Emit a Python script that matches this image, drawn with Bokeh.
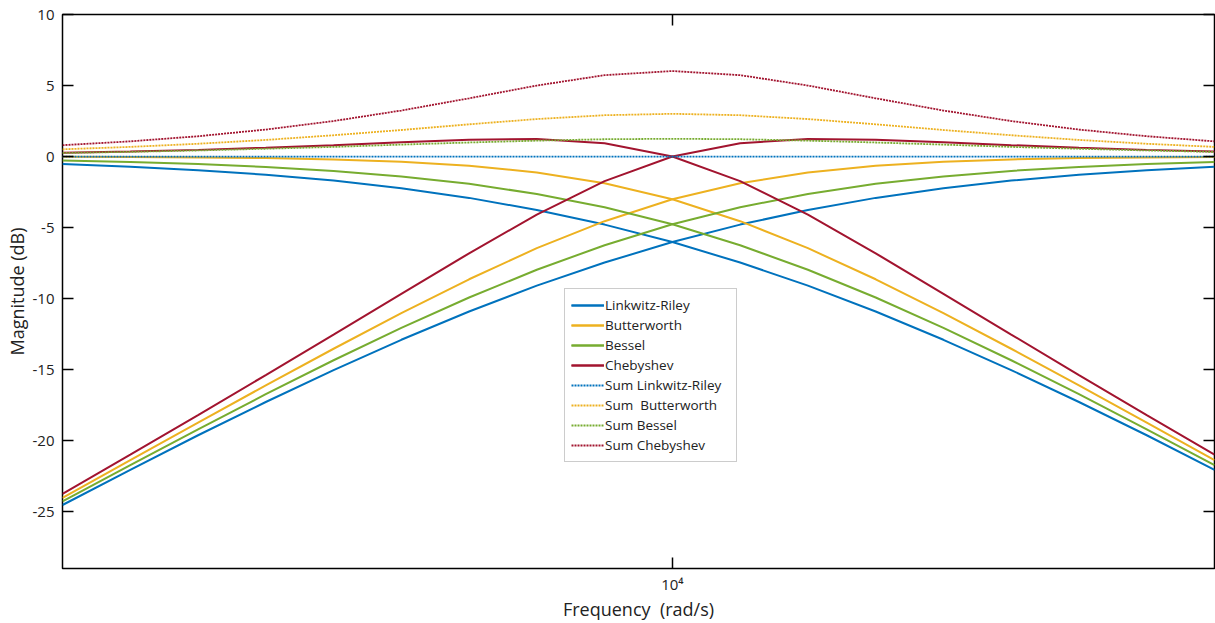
from bokeh.plotting import figure
from bokeh.models import (Range1d, FixedTicker, LinearAxis, LogAxis, Legend, LegendItem)
from bokeh.embed import file_html
from bokeh.resources import INLINE

# frequency grid (rad/s)
freq = [2512, 2929, 3415, 3981, 4642, 5412, 6310, 7356, 8577, 10000,
        11659, 13594, 15849, 18478, 21544, 25119, 29286, 34146]

# magnitudes (dB)
lr_lp = [-0.53, -0.72, -0.96, -1.28, -1.69, -2.23, -2.91, -3.76, -4.79, -6.02,
         -7.46, -9.09, -10.91, -12.90, -15.03, -17.28, -19.62, -22.05]
lr_hp = [-24.53, -22.05, -19.62, -17.28, -15.03, -12.90, -10.91, -9.09, -7.46, -6.02,
         -4.79, -3.76, -2.91, -2.23, -1.69, -1.28, -0.96, -0.72]
bw_lp = [-0.02, -0.03, -0.06, -0.11, -0.20, -0.36, -0.64, -1.12, -1.88, -3.01,
         -4.55, -6.45, -8.64, -11.02, -13.53, -16.11, -18.73, -21.37]
bw_hp = [-24.02, -21.37, -18.73, -16.11, -13.53, -11.02, -8.64, -6.45, -4.55, -3.01,
         -1.88, -1.12, -0.64, -0.36, -0.20, -0.11, -0.06, -0.03]
be_lp = [-0.28, -0.39, -0.53, -0.73, -1.01, -1.40, -1.92, -2.63, -3.57, -4.77,
         -6.24, -7.97, -9.92, -12.06, -14.34, -16.73, -19.20, -21.72]
be_hp = [-24.28, -21.72, -19.20, -16.73, -14.34, -12.06, -9.92, -7.97, -6.24, -4.77,
         -3.57, -2.63, -1.92, -1.40, -1.01, -0.73, -0.53, -0.39]
ch_lp = [0.27, 0.36, 0.47, 0.62, 0.80, 1.01, 1.19, 1.24, 0.94, 0.00,
         -1.73, -4.09, -6.81, -9.66, -12.53, -15.38, -18.20, -20.98]
ch_hp = [-23.74, -20.98, -18.20, -15.38, -12.53, -9.66, -6.81, -4.09, -1.73, 0.00,
         0.94, 1.24, 1.19, 1.01, 0.80, 0.62, 0.47, 0.36]
sum_lr = [0.00] * 18
sum_bw = [0.51, 0.68, 0.90, 1.17, 1.50, 1.87, 2.27, 2.64, 2.91, 3.01,
          2.91, 2.64, 2.27, 1.87, 1.50, 1.17, 0.90, 0.68]
sum_be = [0.25, 0.33, 0.43, 0.55, 0.68, 0.84, 0.99, 1.12, 1.22, 1.25,
          1.22, 1.12, 0.99, 0.84, 0.68, 0.55, 0.43, 0.33]
sum_ch = [0.80, 1.07, 1.43, 1.90, 2.50, 3.24, 4.10, 5.00, 5.73, 6.02,
          5.73, 5.00, 4.10, 3.24, 2.50, 1.90, 1.43, 1.07]

y_ticks = [-25, -20, -15, -10, -5, 0, 5, 10]
y_tick_labels = ["-25", "-20", "-15", "-10", "-5", "0", "5", "10"]
x_ticks = [10000]
x_tick_labels = ["10\u2074"]

names = ["Linkwitz-Riley", "Butterworth", "Bessel", "Chebyshev"]
sum_names = ["Sum Linkwitz-Riley", "Sum \u00a0Butterworth", "Sum Bessel", "Sum Chebyshev"]
colors = ["#0072BD", "#EDB120", "#77AC30", "#A2142F"]

FONT = "Open Sans"

p = figure(width=1215, height=623, x_axis_type="log",
           x_range=Range1d(freq[0], freq[-1]), y_range=Range1d(-29, 10),
           output_backend="svg", toolbar_location=None,
           min_border_left=62, min_border_right=1, min_border_top=14, min_border_bottom=54)
p.background_fill_color = "white"
p.border_fill_color = "white"
p.outline_line_color = "black"
p.outline_line_width = 1.5
p.xgrid.visible = False
p.ygrid.visible = False

solid = []
for lp, hp, c in zip([lr_lp, bw_lp, be_lp, ch_lp], [lr_hp, bw_hp, be_hp, ch_hp], colors):
    r1 = p.line(freq, lp, line_color=c, line_width=2)
    r2 = p.line(freq, hp, line_color=c, line_width=2)
    solid.append([r1, r2])
dotted = []
for s, c in zip([sum_lr, sum_bw, sum_be, sum_ch], colors):
    r = p.line(freq, s, line_color=c, line_width=1.8, line_dash="2 1")
    dotted.append([r])

items = [LegendItem(label=n, renderers=r) for n, r in zip(names, solid)]
items += [LegendItem(label=n, renderers=r) for n, r in zip(sum_names, dotted)]
legend = Legend(items=items, location=(502, 106), orientation="vertical",
                label_text_font=FONT, label_text_font_size="13.5px", label_text_color="#222222",
                glyph_width=33, glyph_height=20, label_height=20, label_width=125,
                label_standoff=1, spacing=0, padding=6, margin=0,
                border_line_color="#999999", border_line_width=1,
                background_fill_color="white", background_fill_alpha=1)
p.add_layout(legend, "center")

def style_axis(ax, show_labels):
    ax.axis_line_color = None
    ax.major_tick_line_color = "black"
    ax.major_tick_line_width = 1.5
    ax.major_tick_in = 11
    ax.major_tick_out = 0
    ax.minor_tick_line_color = None
    ax.major_label_text_font = FONT
    ax.major_label_text_color = "#222222"
    ax.axis_label_text_font = FONT
    ax.axis_label_text_font_style = "normal"
    ax.axis_label_text_color = "#222222"
    if not show_labels:
        ax.major_label_text_font_size = "1px"
        ax.major_label_text_color = None
        ax.major_label_standoff = 0

xa = p.xaxis[0]
xa.ticker = FixedTicker(ticks=x_ticks, minor_ticks=[])
xa.major_label_overrides = dict(zip(x_ticks, x_tick_labels))
style_axis(xa, True)
xa.major_label_text_font_size = "15px"
xa.major_label_standoff = 5
xa.axis_label = "Frequency \u00a0(rad/s)"
xa.axis_label_text_font_size = "18px"
xa.axis_label_standoff = 0

ya = p.yaxis[0]
ya.ticker = FixedTicker(ticks=y_ticks, minor_ticks=[])
ya.major_label_overrides = dict(zip(y_ticks, y_tick_labels))
style_axis(ya, True)
ya.major_label_text_font_size = "15px"
ya.major_label_standoff = 8
ya.axis_label = "Magnitude (dB)"
ya.axis_label_text_font_size = "18px"
ya.axis_label_standoff = 1

top = LogAxis(ticker=FixedTicker(ticks=x_ticks, minor_ticks=[]))
style_axis(top, False)
p.add_layout(top, "above")
right = LinearAxis(ticker=FixedTicker(ticks=y_ticks, minor_ticks=[]))
style_axis(right, False)
p.add_layout(right, "right")

open("out.html", "w").write(file_html(p, INLINE))
